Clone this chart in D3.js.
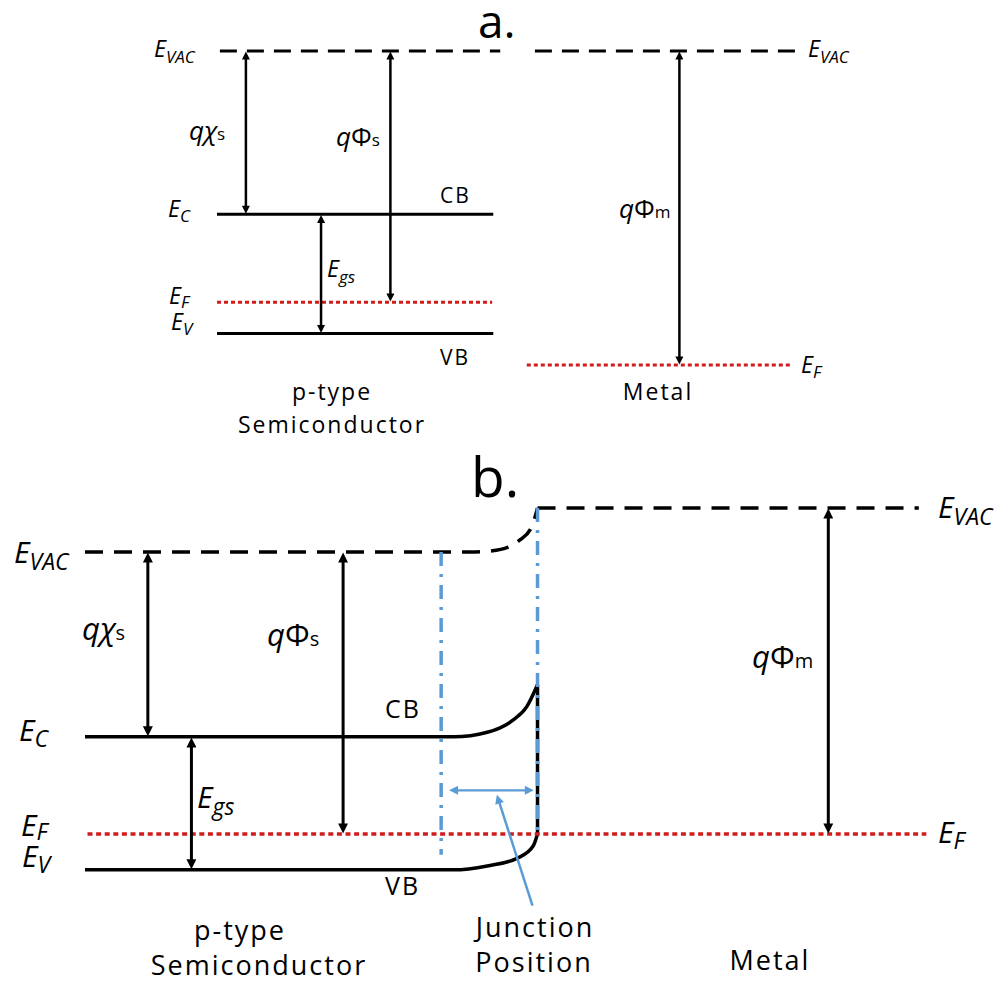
<!DOCTYPE html>
<meta charset="utf-8">
<style>
body { margin: 0; background: #fff; }
text { font-family: "Open Sans", sans-serif; fill: #000; }
.lbl { letter-spacing: 2px; }
.band { fill: none; stroke: #000; }
.vac { fill: none; stroke: #000; }
.fermi { fill: none; stroke: #d01c1c; }
.dashdot { fill: none; stroke: #5b9bd5; stroke-width: 3.5; stroke-dasharray: 14,8,3,8; }
</style>
<body>
<script src="https://cdn.jsdelivr.net/npm/d3@7"></script>
<script>

// ---------- panel a : isolated p-type semiconductor and metal ----------
// energies in eV (vacuum level = 0), positions in arbitrary units
var levelsA = [
  {name: "VAC", kind: "vac",   E: 0,    x0: 0.05, x1: 4.9},
  {name: "C",   kind: "band",  E: -2.6, x0: 0,    x1: 4.78},
  {name: "F",   kind: "fermi", E: -4.0, x0: 0,    x1: 4.76},
  {name: "V",   kind: "band",  E: -4.5, x0: 0,    x1: 4.78},
  {name: "VAC", kind: "vac",   E: 0,    x0: 5.5,  x1: 10},
  {name: "F",   kind: "fermi", E: -5.0, x0: 5.36, x1: 9.91}
];
var arrowsA = [
  {x: 0.5, E0: 0,    E1: -2.6},   // q chi_s
  {x: 3.0, E0: 0,    E1: -4.0},   // q phi_s
  {x: 1.8, E0: -2.6, E1: -4.5},   // E_gs
  {x: 8.0, E0: 0,    E1: -5.0}    // q phi_m
];

// ---------- panel b : semiconductor / metal junction ----------
var vacSemiB = [[-5.4, -0.675], [-0.8, -0.675], [-0.57, -0.66], [-0.35, -0.6], [-0.21, -0.49], [-0.07, -0.29], [0, 0]];
var vacMetalB = [[0, 0], [4.55, 0]];
var cbB = [[-5.4, -3.51], [-1.0, -3.51], [-0.6, -3.44], [-0.29, -3.25], [-0.13, -3.05], [0, -2.71]];
var vbB = [[-5.4, -5.55], [-1.0, -5.55], [-0.6, -5.49], [-0.24, -5.37], [-0.05, -5.18], [0, -5.0]];
var edgeB = [[0, -2.71], [0, -5.0]];
var fermiB = [[-5.37, -5.0], [4.64, -5.0]];
var arrowsB = [
  {x: -4.65, E0: -0.675, E1: -3.51},
  {x: -2.32, E0: -0.675, E1: -5.0},
  {x: -4.13, E0: -3.51,  E1: -5.55},
  {x: 3.47,  E0: 0,      E1: -5.0}
];
var depletionB = [{x: -1.15, E0: -0.675, E1: -5.32}, {x: 0, E0: 0, E1: -4.95}];
var widthArrowB = [[-1.07, -4.33], [-0.03, -4.33]];
var pointerB = [[-0.06, -6.1], [-0.49, -4.38]];

var svg = d3.select("body").append("svg")
  .attr("width", 1008).attr("height", 984);

// scales
var xA = d3.scaleLinear().domain([0, 10]).range([217, 795]);
var yA = d3.scaleLinear().domain([0, -5]).range([51, 365]);
var xB = d3.scaleLinear().domain([-5.4, 4.6]).range([85, 923]);
var yB = d3.scaleLinear().domain([0, -5]).range([508, 834]);

// arrow heads
var defs = svg.append("defs");
function marker(id, color, len, wid) {
  defs.append("marker").attr("id", id)
    .attr("viewBox", "0 0 10 10").attr("refX", 4).attr("refY", 5)
    .attr("markerUnits", "userSpaceOnUse")
    .attr("markerWidth", len).attr("markerHeight", wid)
    .attr("orient", "auto-start-reverse")
    .append("path").attr("d", "M0,0L10,5L0,10z").attr("fill", color);
}
marker("hA", "#000", 9, 8);
marker("hB", "#000", 11, 10);
marker("hBlue", "#5b9bd5", 11, 9);

function arrow(g, x1, y1, x2, y2, id, len, both, w, color) {
  var dx = x2 - x1, dy = y2 - y1, L = Math.hypot(dx, dy), ux = dx / L, uy = dy / L, s = 0.6 * len;
  g.append("line")
    .attr("x1", both ? x1 + ux * s : x1).attr("y1", both ? y1 + uy * s : y1)
    .attr("x2", x2 - ux * s).attr("y2", y2 - uy * s)
    .attr("stroke", color).attr("stroke-width", w)
    .attr("marker-end", "url(#" + id + ")")
    .attr("marker-start", both ? "url(#" + id + ")" : null);
}

// text made of parts: [string, size, italic, dy]
function label(g, x, y, parts, anchor) {
  var t = g.append("text").attr("x", x).attr("y", y).attr("text-anchor", anchor || "start");
  parts.forEach(function(p) {
    t.append("tspan").text(p[0])
      .attr("font-size", p[1])
      .attr("font-style", p[2] ? "italic" : "normal")
      .attr("dy", p[3] || 0);
  });
  return t;
}

var line = d3.line();

// ================= panel a =================
var gA = svg.append("g");

gA.append("text").attr("x", 478).attr("y", 38).attr("font-size", 46).text("a.");

gA.selectAll("path.lv").data(levelsA).enter().append("path")
  .attr("class", function(d) { return "lv " + d.kind; })
  .attr("d", function(d) { return line([[xA(d.x0), yA(d.E)], [xA(d.x1), yA(d.E)]]); })
  .attr("stroke-width", 3)
  .attr("stroke-dasharray", function(d) {
    return d.kind == "vac" ? "17,10" : d.kind == "fermi" ? "4,3" : null;
  });

arrowsA.forEach(function(d) {
  arrow(gA, xA(d.x), yA(d.E0), xA(d.x), yA(d.E1), "hA", 9, true, 2.5, "#000");
});

// level names
label(gA, 154, 57, [["E", 23, true], ["VAC", 17, true, 6]]);
label(gA, 168, 217, [["E", 23, true], ["C", 17, true, 5]]);
label(gA, 169, 304, [["E", 23, true], ["F", 17, true, 4]]);
label(gA, 171, 330, [["E", 23, true], ["V", 17, true, 5]]);
label(gA, 808, 57, [["E", 23, true], ["VAC", 17, true, 6]]);
label(gA, 801, 373, [["E", 23, true], ["F", 17, true, 5]]);

label(gA, 189, 140, [["q", 26, true], ["\u03C7", 26, true], ["s", 17, false]]);
label(gA, 336, 146, [["q", 26, true], ["\u03A6", 26, false], ["s", 17, false]]);
label(gA, 327, 277, [["E", 23, true], ["gs", 17, true, 6]]);
label(gA, 619, 218, [["q", 26, true], ["\u03A6", 26, false], ["m", 17, false]]);

gA.append("text").attr("class", "lbl").attr("x", 440).attr("y", 203).attr("font-size", 21).text("CB");
gA.append("text").attr("class", "lbl").attr("x", 440).attr("y", 365).attr("font-size", 21).text("VB");
gA.append("text").attr("class", "lbl").attr("x", 332).attr("y", 400).attr("font-size", 23)
  .attr("text-anchor", "middle").text("p-type");
gA.append("text").attr("class", "lbl").attr("x", 332).attr("y", 433).attr("font-size", 23)
  .attr("text-anchor", "middle").text("Semiconductor");
gA.append("text").attr("class", "lbl").attr("x", 658).attr("y", 400).attr("font-size", 23)
  .attr("text-anchor", "middle").text("Metal");

// ================= panel b =================
var gB = svg.append("g");
var lineB = d3.line().x(function(d) { return xB(d[0]); }).y(function(d) { return yB(d[1]); });
var curveB = d3.line().x(function(d) { return xB(d[0]); }).y(function(d) { return yB(d[1]); })
  .curve(d3.curveMonotoneX);

gB.append("text").attr("x", 471).attr("y", 497).attr("font-size", 55).text("b.");

gB.append("path").attr("class", "vac").attr("d", curveB(vacSemiB))
  .attr("stroke-width", 3.5).attr("stroke-dasharray", "18,11");
gB.append("path").attr("class", "vac").attr("d", lineB(vacMetalB))
  .attr("stroke-width", 3.5).attr("stroke-dasharray", "18,11");
gB.append("path").attr("class", "band").attr("d", curveB(cbB)).attr("stroke-width", 3.5);
gB.append("path").attr("class", "band").attr("d", curveB(vbB)).attr("stroke-width", 3.5);
gB.append("path").attr("class", "band").attr("d", lineB(edgeB)).attr("stroke-width", 3.5);
gB.append("path").attr("class", "fermi").attr("d", lineB(fermiB))
  .attr("stroke-width", 3.5).attr("stroke-dasharray", "5,3.6");

gB.selectAll("line.dep").data(depletionB).enter().append("line")
  .attr("class", "dep dashdot")
  .attr("x1", function(d) { return xB(d.x); }).attr("x2", function(d) { return xB(d.x); })
  .attr("y1", function(d) { return yB(d.E0); }).attr("y2", function(d) { return yB(d.E1); });

arrowsB.forEach(function(d) {
  arrow(gB, xB(d.x), yB(d.E0), xB(d.x), yB(d.E1), "hB", 11, true, 3, "#000");
});

arrow(gB, xB(widthArrowB[0][0]), yB(widthArrowB[0][1]), xB(widthArrowB[1][0]), yB(widthArrowB[1][1]),
  "hBlue", 11, true, 2.2, "#5b9bd5");
arrow(gB, xB(pointerB[0][0]), yB(pointerB[0][1]), xB(pointerB[1][0]), yB(pointerB[1][1]),
  "hBlue", 11, false, 2.5, "#5b9bd5");

label(gB, 14, 563, [["E", 30, true], ["VAC", 23, true, 7]]);
label(gB, 938, 518, [["E", 30, true], ["VAC", 23, true, 7]]);
label(gB, 19, 741, [["E", 30, true], ["C", 23, true, 6]]);
label(gB, 21, 836, [["E", 30, true], ["F", 23, true, 4]]);
label(gB, 22, 867, [["E", 30, true], ["V", 23, true, 6]]);
label(gB, 938, 843, [["E", 30, true], ["F", 23, true, 6]]);

label(gB, 82, 640, [["q", 31, true], ["\u03C7", 31, true], ["s", 20, false]]);
label(gB, 267, 646, [["q", 31, true], ["\u03A6", 31, false], ["s", 20, false]]);
label(gB, 752, 668, [["q", 31, true], ["\u03A6", 31, false], ["m", 20, false]]);
label(gB, 197, 808, [["E", 30, true], ["gs", 23, true, 7]]);

gB.append("text").attr("class", "lbl").attr("x", 385).attr("y", 718).attr("font-size", 25).text("CB");
gB.append("text").attr("class", "lbl").attr("x", 385).attr("y", 895).attr("font-size", 25).text("VB");
[["p-type", 240, 940], ["Semiconductor", 259, 975], ["Junction", 535, 937],
 ["Position", 534, 972], ["Metal", 770, 970]].forEach(function(d) {
  gB.append("text").attr("class", "lbl").attr("x", d[1]).attr("y", d[2])
    .attr("font-size", 27).attr("letter-spacing", 2.5)
    .attr("text-anchor", "middle").text(d[0]);
});

</script>
</body>
